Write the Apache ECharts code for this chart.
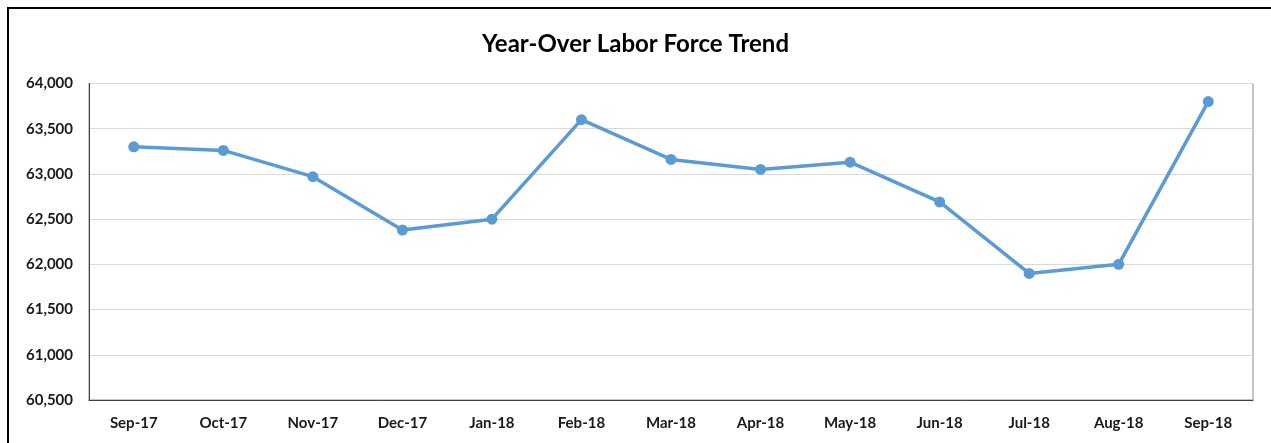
<!DOCTYPE html>
<html>
<head>
<meta charset="utf-8">
<script src="https://cdn.jsdelivr.net/npm/echarts@6/dist/echarts.min.js"></script>
<style>
html,body{margin:0;padding:0;background:#fff;}
#chart{width:1271px;height:443px;}
</style>
</head>
<body>
<div id="chart"></div>
<script>
const categories = ['Sep-17','Oct-17','Nov-17','Dec-17','Jan-18','Feb-18','Mar-18','Apr-18','May-18','Jun-18','Jul-18','Aug-18','Sep-18'];
const laborForce = [63300, 63260, 62970, 62380, 62500, 63600, 63160, 63050, 63130, 62690, 61900, 62000, 63800];
const yMin = 60500, yMax = 64000, yStep = 500;
const titleText = 'Year-Over Labor Force Trend';

const chart = echarts.init(document.getElementById('chart'), null, {renderer:'canvas'});
const font = 'Lato, "Open Sans", sans-serif';
chart.setOption({
  animation:false,
  backgroundColor:'#fff',
  title:{
    text:titleText, left:'center', top:27,
    textStyle:{fontFamily:font, fontWeight:'bold', fontSize:24, color:'#000'}
  },
  graphic:[{
    type:'rect', silent:true,
    shape:{x:8, y:8, width:1300, height:500},
    style:{fill:'none', stroke:'#000', lineWidth:2}
  }],
  grid:{left:89, right:18, top:83.5, bottom:43, show:true, borderColor:'#8c8c8c', borderWidth:1},
  xAxis:{
    type:'category', data:categories, boundaryGap:true,
    axisLine:{show:true, lineStyle:{color:'#404040', width:1}},
    axisTick:{show:false},
    axisLabel:{fontFamily:font, fontWeight:'bold', fontSize:15, color:'#1a1a1a', margin:16}
  },
  yAxis:{
    type:'value', min:yMin, max:yMax, interval:yStep,
    axisLine:{show:true, lineStyle:{color:'#404040', width:1}},
    axisTick:{show:false},
    splitLine:{lineStyle:{color:'#d9d9d9', width:1}},
    axisLabel:{fontFamily:font, fontWeight:'bold', fontSize:15, color:'#1a1a1a', margin:16,
      formatter:v=>v.toLocaleString('en-US')}
  },
  series:[{
    type:'line', data:laborForce,
    lineStyle:{color:'#5b9bd5', width:3.5},
    itemStyle:{color:'#5b9bd5'},
    symbol:'circle', symbolSize:11
  }]
});
</script>
</body>
</html>
